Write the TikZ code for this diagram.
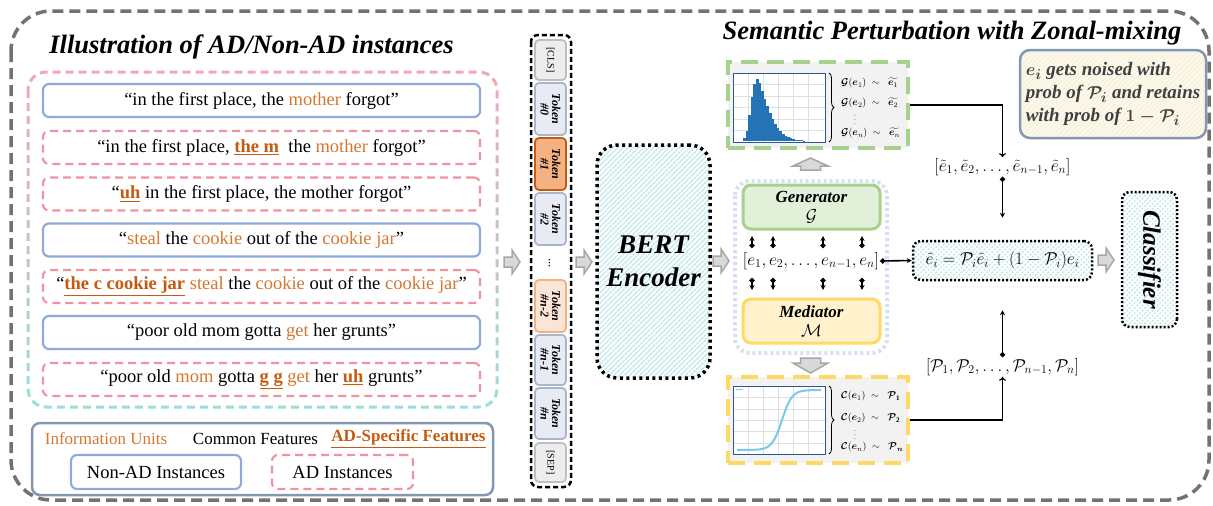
\documentclass[tikz,border=0pt]{standalone}
\usepackage{amsmath,amssymb}
\usepackage{fontspec}
\setmainfont{Liberation Serif}
\usetikzlibrary{arrows.meta,patterns.meta,decorations.pathreplacing,calc}

\definecolor{outergray}{HTML}{767171}
\definecolor{pinkb}{HTML}{F2A7B9}
\definecolor{cyanb}{HTML}{9ADFDA}
\definecolor{adpink}{HTML}{F0929F}
\definecolor{nonblue}{HTML}{8EA9DB}
\definecolor{legbd}{HTML}{8497B0}
\definecolor{iuc}{HTML}{D4772F}
\definecolor{adc}{HTML}{C55A11}
\definecolor{tokfill}{HTML}{E8EBF3}
\definecolor{tokbd}{HTML}{A9B6C9}
\definecolor{clsfill}{HTML}{EDEDED}
\definecolor{clsbd}{HTML}{BFBFBF}
\definecolor{orfill}{HTML}{F4B183}
\definecolor{orbd}{HTML}{C55A11}
\definecolor{lorfill}{HTML}{FBE5D6}
\definecolor{lorbd}{HTML}{F4B183}
\definecolor{hatchc}{HTML}{C4EAEA}
\definecolor{grnbd}{HTML}{A9D18E}
\definecolor{grnfill}{HTML}{E2F0D9}
\definecolor{ylwbd}{HTML}{FFD966}
\definecolor{ylwfill}{HTML}{FFF2CC}
\definecolor{dotblue}{HTML}{D6E0F2}
\definecolor{panelbg}{HTML}{F2F2F2}
\definecolor{plotbd}{HTML}{2F5597}
\definecolor{histc}{HTML}{2572B4}
\definecolor{sigc}{HTML}{7DC8E6}
\definecolor{notefill}{HTML}{FDF9EA}
\definecolor{notehatch}{HTML}{F6F0DC}
\definecolor{notetext}{HTML}{404040}
\definecolor{arrfill}{HTML}{D9D9D9}
\definecolor{arrbd}{HTML}{A6A6A6}

\newcommand{\iu}[1]{\textcolor{iuc}{#1}}
\newcommand{\adf}[1]{\textcolor{adc}{\textbf{\underline{#1}}}}
\newcommand{\fs}[2]{\fontsize{#1}{#2}\selectfont}
\newcommand{\be}{\boldsymbol{e}}
\newcommand{\dist}{\;\;{\sim}\;\;\;}

\tikzset{
  outerframe/.style={draw=outergray, line width=3.5pt, dash pattern=on 11pt off 6pt, rounded corners=40pt},
  panelframe/.style={line width=3pt, dash pattern=on 8pt off 5pt, rounded corners=18pt},
  title/.style={font=\fs{26.5}{30}\bfseries\itshape, inner sep=0pt},
  inst/.style={rounded corners=6pt, line width=2.2pt, minimum width=437pt, minimum height=33pt, inner sep=0pt, font=\fs{18.5}{22}},
  nonad/.style={inst, draw=nonblue},
  adinst/.style={inst, draw=adpink, dash pattern=on 8pt off 5pt},
  legendbox/.style={draw=legbd, line width=2.5pt, rounded corners=8pt, minimum width=461pt, minimum height=72pt},
  hatch/.style={preaction={fill=white}, pattern={Lines[angle=45,distance=3.6pt,line width=1.5pt]}, pattern color=hatchc},
  tokbase/.style={rotate=-90, rounded corners=4pt, line width=1.8pt, minimum height=31pt, inner sep=0pt, align=center, font=\fs{12}{11.5}\bfseries\itshape},
  clstok/.style={tokbase, fill=clsfill, draw=clsbd, font=\fs{10}{10}},
  plaintok/.style={tokbase, fill=tokfill, draw=tokbd},
  hottok/.style={tokbase, fill=orfill, draw=orbd},
  warmtok/.style={tokbase, fill=lorfill, draw=lorbd},
  tokcol/.style={draw=black, line width=2.5pt, dash pattern=on 5pt off 3pt, rounded corners=7pt},
  bigdots/.style={draw=black, line width=3.5pt, dash pattern=on 3pt off 3.5pt, rounded corners=20pt},
  smalldots/.style={draw=black, line width=2.5pt, dash pattern=on 2pt off 2pt, rounded corners=8pt},
  distbox/.style={fill=panelbg, line width=4pt, dash pattern=on 17pt off 9pt, minimum width=180pt, minimum height=86pt},
  plotframe/.style={draw=plotbd, line width=1pt},
  plotgrid/.style={draw=gray!25, line width=0.5pt},
  modbox/.style={rounded corners=8pt, line width=3pt, minimum width=137pt, minimum height=44pt, align=center, font=\fs{17}{19}},
  mathlbl/.style={font=\fs{10}{12}, anchor=west, inner sep=0pt},
  vec/.style={font=\fs{17}{20}, inner sep=1pt},
  blockarrow/.style={fill=arrfill, draw=arrbd, line width=1.5pt, line join=miter},
  dotarr/.style={line width=1.6pt, {Circle[length=5pt]}-{Stealth[length=5pt,width=5pt]}},
  conn/.style={line width=1.2pt, -{To[length=4pt,width=7pt]}},
  note/.style={draw=legbd, line width=2.5pt, rounded corners=10pt, minimum width=186pt, minimum height=88pt,
    preaction={fill=notefill}, pattern={Lines[angle=45,distance=3.6pt,line width=1pt]}, pattern color=notehatch},
  rarrow/.pic={\path[blockarrow] (0,-5) -- (8,-5) -- (8,-12) -- (16,0) -- (8,12) -- (8,5) -- (0,5) -- cycle;},
  uarrow/.pic={\path[blockarrow] (-10,0) -- (-10,-4) -- (-17.5,-4) -- (0,-12) -- (17.5,-4) -- (10,-4) -- (10,0) -- cycle;},
  darrow/.pic={\path[blockarrow] (-10,0) -- (-10,5) -- (-17.5,5) -- (0,15) -- (17.5,5) -- (10,5) -- (10,0) -- cycle;},
}

\begin{document}
\begin{tikzpicture}[x=1pt,y=-1pt]
\useasboundingbox (0,0) rectangle (1213,506);

% whole-figure frame
\draw[outerframe] (11,11) rectangle (1209,500);

% ---------------- left part: example utterances ----------------
\node[title, anchor=base] (ltitle) at (251.5,53) {Illustration of AD/Non-AD instances};

% dashed frame fading from pink (top) to cyan (bottom)
\foreach \k in {0,...,17} {
  \pgfmathtruncatemacro\p{round(100*\k/17)}
  \begin{scope}
    \clip (15,{60+\k*20}) rectangle (510,{60+(\k+1)*20});
    \draw[panelframe, draw=cyanb!\p!pinkb] (28,72) rectangle (497,407);
  \end{scope}
}

\node[nonad]  (i1) at (261.5,100.5) {“in the first place, the \iu{mother} forgot”};
\node[adinst] (i2) at (261.5,147.5) {“in the first place, \adf{the m}\ \ the \iu{mother} forgot”};
\node[adinst] (i3) at (261.5,194)   {“\adf{uh} in the first place, the mother forgot”};
\node[nonad]  (i4) at (261.5,240)   {“\iu{steal} the \iu{cookie} out of the \iu{cookie jar}”};
\node[adinst] (i5) at (261.5,286.5) {“\adf{the c cookie jar} \iu{steal} the \iu{cookie} out of the \iu{cookie jar}”};
\node[nonad]  (i6) at (261.5,332.5) {“poor old mom gotta \iu{get} her grunts”};
\node[adinst] (i7) at (261.5,379.5) {“poor old \iu{mom} gotta \adf{g g} \iu{get} her \adf{uh} grunts”};

% legend
\node[legendbox] (legend) at (262.5,459) {};
\node[font=\fs{17}{20}, text=iuc] (lg1) at (106,439) {Information Units};
\node[font=\fs{17}{20}] (lg2) at (255.5,439) {Common Features};
\node[font=\fs{17}{20}, text=adc] (lg3) at (408.5,439) {\textbf{\underline{AD-Specific Features}}};
\node[inst, draw=nonblue, minimum width=170pt, minimum height=34pt] (lgn) at (156,472) {Non-AD Instances};
\node[inst, draw=adpink, dash pattern=on 8pt off 5pt, minimum width=141pt, minimum height=34pt] (lga) at (342.5,472) {AD Instances};

\pic at (504,262) {rarrow};

% ---------------- token sequence ----------------
\draw[tokcol] (531,35) rectangle (571,487);
\node[clstok, minimum width=40pt] (cls) at (550.5,60) {[CLS]};
\node[plaintok, minimum width=52pt] (t0) at (550.5,109) {Token\\\#0};
\node[hottok, minimum width=52pt] (t1) at (550.5,164) {Token\\\#1};
\node[plaintok, minimum width=52pt] (t2) at (550.5,219) {Token\\\#2};
\node[rotate=-90, font=\fs{13}{13}] (tdots) at (549.5,263) {...};
\node[warmtok, minimum width=52pt] (tn2) at (550.5,306) {Token\\\#n-2};
\node[plaintok, minimum width=50pt] (tn1) at (550.5,360) {Token\\\#n-1};
\node[plaintok, minimum width=51pt] (tn) at (550.5,413.5) {Token\\\#n};
\node[clstok, minimum width=39pt] (sep) at (550.5,462.5) {[SEP]};

\pic at (576,262) {rarrow};

% ---------------- encoder ----------------
\node[bigdots, hatch, minimum width=113pt, minimum height=233pt, align=center,
      font=\fs{27}{33}\bfseries\itshape] (bert) at (653.5,261.5) {BERT\\Encoder};

\pic at (713,261) {rarrow};

% ---------------- perturbation module ----------------
\node[title, anchor=base] (rtitle) at (952,39) {Semantic Perturbation with Zonal-mixing};

% generator output distribution
\node[distbox, draw=grnbd] (gbox) at (818,105) {};
\fill[white] (733,73) rectangle (825,142);
\foreach \gx in {748,763,778,793,808} \draw[plotgrid] (\gx,73) -- (\gx,142);
\foreach \gy in {84.5,96,107.5,119,130.5} \draw[plotgrid] (733,\gy) -- (825,\gy);
\foreach \hh [count=\kk from 0] in {3,10,26,44,57,62,58,50,42,35,28,22,17,13,10,7,5,4,3,2,1.5,1,0.8,0.5} {
  \fill[histc] ({743+\kk*2.6},141) rectangle ++(2.6,-\hh);
}
\draw[plotframe] (733,73) rectangle (825,142);
\node[mathlbl] (g1) at (841,83)  {$\boldsymbol{\mathcal{G}}(\be_1)\dist\widetilde{\be_1}$};
\node[mathlbl] (g2) at (841,103) {$\boldsymbol{\mathcal{G}}(\be_2)\dist\widetilde{\be_2}$};
\node[font=\fs{9}{9}, text=gray] (gd) at (855,117) {$\vdots$};
\node[mathlbl] (gn) at (841,133) {$\boldsymbol{\mathcal{G}}(\be_n)\dist\widetilde{\be_n}$};
\draw[line width=0.8pt, decorate, decoration={brace, amplitude=5pt}] (829,73) -- (829,142);

\pic at (810.5,170) {uarrow};

% generator / mediator around the embeddings
\draw[draw=dotblue, line width=4pt, dash pattern=on 3pt off 3pt, rounded corners=15pt] (735,181) rectangle (887,353);
\node[modbox, fill=grnfill, draw=grnbd] (gen) at (811.5,207) {\textbf{\textit{Generator}}\\$\mathcal{G}$};
\node[modbox, fill=ylwfill, draw=ylwbd] (med) at (811.5,321) {\textbf{\textit{Mediator}}\\$\mathcal{M}$};
\node[vec] (seq) at (811,261) {$[e_1, e_2, \ldots, e_{n-1}, e_n]$};
\foreach \x [count=\k] in {752,773,823,862} {
  \coordinate (ua\k) at (\x,248); \coordinate (ub\k) at (\x,236);
  \coordinate (da\k) at (\x,278); \coordinate (db\k) at (\x,290);
  \draw[dotarr] (ua\k) -- (ub\k);
  \draw[dotarr] (da\k) -- (db\k);
}

\pic at (810.5,358) {darrow};

% mediator output distribution
\node[distbox, draw=ylwbd] (ybox) at (818,420) {};
\fill[white] (733,386) rectangle (825,454);
\foreach \gx in {748,763,778,793,808} \draw[plotgrid] (\gx,386) -- (\gx,454);
\foreach \gy in {397.5,409,420,431.5,443} \draw[plotgrid] (733,\gy) -- (825,\gy);
\draw[sigc, line width=2pt] plot[domain=737:821, samples=70] (\x, {450 - 60/(1+exp(-(\x-782)/5))});
\draw[sigc, line width=1.5pt] (736,389.5) -- (743,389.5);
\draw[plotframe] (733,386) rectangle (825,454);
\node[mathlbl] (c1) at (841,396) {$\boldsymbol{\mathcal{C}}(\be_1)\dist\boldsymbol{\mathcal{P}}_{\mathbf{1}}$};
\node[mathlbl] (c2) at (841,418) {$\boldsymbol{\mathcal{C}}(\be_2)\dist\boldsymbol{\mathcal{P}}_{\mathbf{2}}$};
\node[font=\fs{9}{9}, text=gray] (cd) at (855,432) {$\vdots$};
\node[mathlbl] (cn) at (841,447) {$\boldsymbol{\mathcal{C}}(\be_n)\dist\boldsymbol{\mathcal{P}}_{\boldsymbol{n}}$};
\draw[line width=0.8pt, decorate, decoration={brace, amplitude=5pt}] (829,386) -- (829,454);

% zonal mixing
\node[smalldots, hatch, minimum width=179pt, minimum height=39pt, font=\fs{17}{20}] (formula) at (1002.5,260.5)
  {$\tilde{e}_i = \mathcal{P}_i\tilde{e}_i + (1-\mathcal{P}_i)e_i$};
\node[vec] (tvec) at (1002.5,167) {$[\tilde{e}_1, \tilde{e}_2, \ldots, \tilde{e}_{n-1}, \tilde{e}_n]$};
\node[vec] (pvec) at (1002.5,367) {$[\mathcal{P}_1, \mathcal{P}_2, \ldots, \mathcal{P}_{n-1}, \mathcal{P}_n]$};

\draw[conn] (gbox.east) -| (tvec.north);
\draw[conn] (ybox.east) -| (pvec.south);
\draw[dotarr, shorten >=22pt] (tvec.south) -- (formula.north);
\draw[dotarr, shorten >=29pt] (pvec.north) -- (formula.south);
\draw[dotarr] (seq.east) -- (formula.west);

\pic at (1098,260) {rarrow};

\node[smalldots, hatch, rotate=-90, minimum width=135pt, minimum height=55pt,
      font=\fs{25}{28}\bfseries\itshape] (clsf) at (1149.5,259.5) {Classifier};

% note on the mixing rule
\node[note, text=notetext, align=left, font=\fs{19}{23}\bfseries\itshape] (rule) at (1113,94)
  {$\boldsymbol{e_i}$ gets noised with\\prob of $\boldsymbol{\mathcal{P}_i}$ and retains\\with prob of $\boldsymbol{1-\mathcal{P}_i}$};

\end{tikzpicture}
\end{document}
